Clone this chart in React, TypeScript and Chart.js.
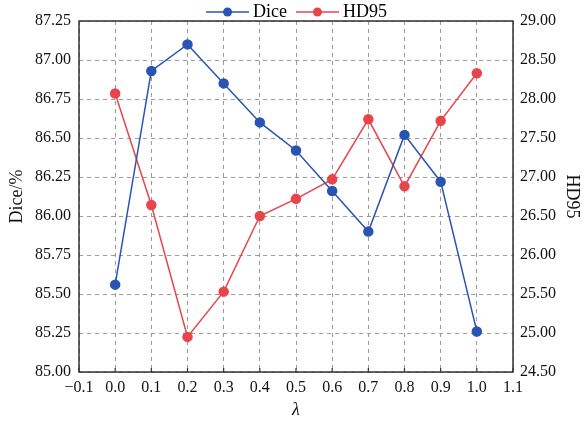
import React, { useEffect, useRef } from 'react';
import { Chart, registerables } from 'chart.js';

Chart.register(...registerables);

const lambdas = [0.0, 0.1, 0.2, 0.3, 0.4, 0.5, 0.6, 0.7, 0.8, 0.9, 1.0];
const diceValues = [85.56, 86.93, 87.10, 86.85, 86.60, 86.42, 86.16, 85.90, 86.52, 86.22, 85.26];
const hd95Values = [28.07, 26.64, 24.95, 25.53, 26.50, 26.72, 26.97, 27.74, 26.88, 27.72, 28.33];

const xRange = [-0.1, 1.1];
const diceRange = [85.0, 87.25];
const hd95Range = [24.5, 29.0];

const BLUE = '#2a54b2';
const RED = '#e8454b';
const AXIS = '#333333';
const FONT = 'Liberation Serif';

function makeIcon(color: string) {
  const c = document.createElement('canvas');
  c.width = 54;
  c.height = 12;
  const ctx = c.getContext('2d')!;
  ctx.strokeStyle = color;
  ctx.lineWidth = 1.5;
  ctx.beginPath();
  ctx.moveTo(11, 6);
  ctx.lineTo(54, 6);
  ctx.stroke();
  ctx.fillStyle = color;
  ctx.beginPath();
  ctx.arc(32.5, 6, 4.5, 0, Math.PI * 2);
  ctx.fill();
  return c;
}

const framePlugin = {
  id: 'frame',
  beforeDatasetsDraw(chart: any) {
    const { ctx, chartArea } = chart;
    const { left, right, top, bottom } = chartArea;
    ctx.save();
    ctx.strokeStyle = AXIS;
    ctx.lineWidth = 1.5;
    ctx.strokeRect(left, top, right - left, bottom - top);
    const xs = chart.scales.x;
    ctx.lineWidth = 1.2;
    xs.ticks.forEach((t: any) => {
      const px = xs.getPixelForValue(t.value);
      ctx.beginPath();
      ctx.moveTo(px, bottom);
      ctx.lineTo(px, bottom - 4);
      ctx.stroke();
    });
    ctx.restore();
  },
};

const whiteBg = {
  id: 'whiteBg',
  beforeDraw(chart: any) {
    const { ctx, width, height } = chart;
    ctx.save();
    ctx.fillStyle = '#ffffff';
    ctx.fillRect(0, 0, width, height);
    ctx.restore();
  },
};

export default function App() {
  const ref = useRef<HTMLCanvasElement>(null);

  useEffect(() => {
    const icons = [makeIcon(BLUE), makeIcon(RED)];
    const gridCommon = { color: '#9a9a9a', lineWidth: 1, drawTicks: false };
    const chart = new Chart(ref.current!, {
      type: 'line',
      data: {
        datasets: [
          {
            label: 'Dice',
            data: lambdas.map((x, i) => ({ x, y: diceValues[i] })),
            borderColor: BLUE,
            backgroundColor: BLUE,
            pointBackgroundColor: BLUE,
            pointBorderColor: BLUE,
            pointRadius: 4.5,
            borderWidth: 1.5,
            tension: 0,
            yAxisID: 'y',
          },
          {
            label: 'HD95',
            data: lambdas.map((x, i) => ({ x, y: hd95Values[i] })),
            borderColor: RED,
            backgroundColor: RED,
            pointBackgroundColor: RED,
            pointBorderColor: RED,
            pointRadius: 4.5,
            borderWidth: 1.5,
            tension: 0,
            yAxisID: 'y1',
          },
        ],
      },
      options: {
        responsive: false,
        animation: false,
        layout: { padding: 0 },
        plugins: {
          tooltip: { enabled: false },
          legend: {
            display: true,
            position: 'top',
            maxHeight: 21,
            labels: {
              usePointStyle: true,
              pointStyleWidth: 44,
              boxHeight: 12,
              padding: 3,
              color: '#000',
              font: { family: FONT, size: 18 },
              generateLabels: (c: any) =>
                c.data.datasets.map((ds: any, i: number) => ({
                  text: ds.label,
                  fillStyle: ds.borderColor,
                  strokeStyle: ds.borderColor,
                  lineWidth: 0,
                  pointStyle: icons[i],
                  datasetIndex: i,
                  hidden: false,
                  fontColor: '#000',
                })),
            },
          },
        },
        scales: {
          x: {
            type: 'linear',
            position: 'bottom',
            min: xRange[0],
            max: xRange[1],
            ticks: {
              stepSize: 0.1,
              padding: 6,
              color: '#111',
              font: { family: FONT, size: 16 },
              callback: (v: any) => Number(v).toFixed(1).replace('-', '\u2212'),
            },
            grid: gridCommon,
            border: { display: false, dash: [4, 4] },
            title: {
              display: true,
              text: 'λ',
              color: '#111',
              font: { family: FONT, size: 18, style: 'italic' },
              padding: { top: 0, bottom: 0 },
            },
            afterFit: (s: any) => {
              s.height = 49;
              s.paddingLeft = 0;
              s.paddingRight = 0;
            },
          },
          y: {
            type: 'linear',
            position: 'left',
            min: diceRange[0],
            max: diceRange[1],
            ticks: {
              stepSize: 0.25,
              padding: 8,
              color: '#111',
              font: { family: FONT, size: 16 },
              callback: (v: any) => Number(v).toFixed(2),
            },
            grid: gridCommon,
            border: { display: false, dash: [4, 4] },
            title: {
              display: true,
              text: 'Dice/%',
              color: '#111',
              font: { family: FONT, size: 18 },
              padding: { top: 6, bottom: 0 },
            },
            afterFit: (s: any) => {
              s.width = 79;
              s.paddingTop = 0;
              s.paddingBottom = 0;
            },
          },
          y1: {
            type: 'linear',
            position: 'right',
            min: hd95Range[0],
            max: hd95Range[1],
            ticks: {
              stepSize: 0.5,
              padding: 7,
              color: '#111',
              font: { family: FONT, size: 16 },
              callback: (v: any) => Number(v).toFixed(2),
            },
            grid: { drawOnChartArea: false, drawTicks: false },
            border: { display: false },
            title: {
              display: true,
              text: 'HD95',
              color: '#111',
              font: { family: FONT, size: 18 },
              padding: { top: 4, bottom: 0 },
            },
            afterFit: (s: any) => {
              s.width = 74;
              s.paddingTop = 0;
              s.paddingBottom = 0;
            },
          },
        },
      },
      plugins: [whiteBg, framePlugin],
    } as any);
    return () => chart.destroy();
  }, []);

  return (
    <div style={{ position: 'absolute', left: 0, top: 0, width: 587, height: 421, background: '#fff' }}>
      <canvas ref={ref} width={587} height={421} style={{ display: 'block' }} />
    </div>
  );
}
